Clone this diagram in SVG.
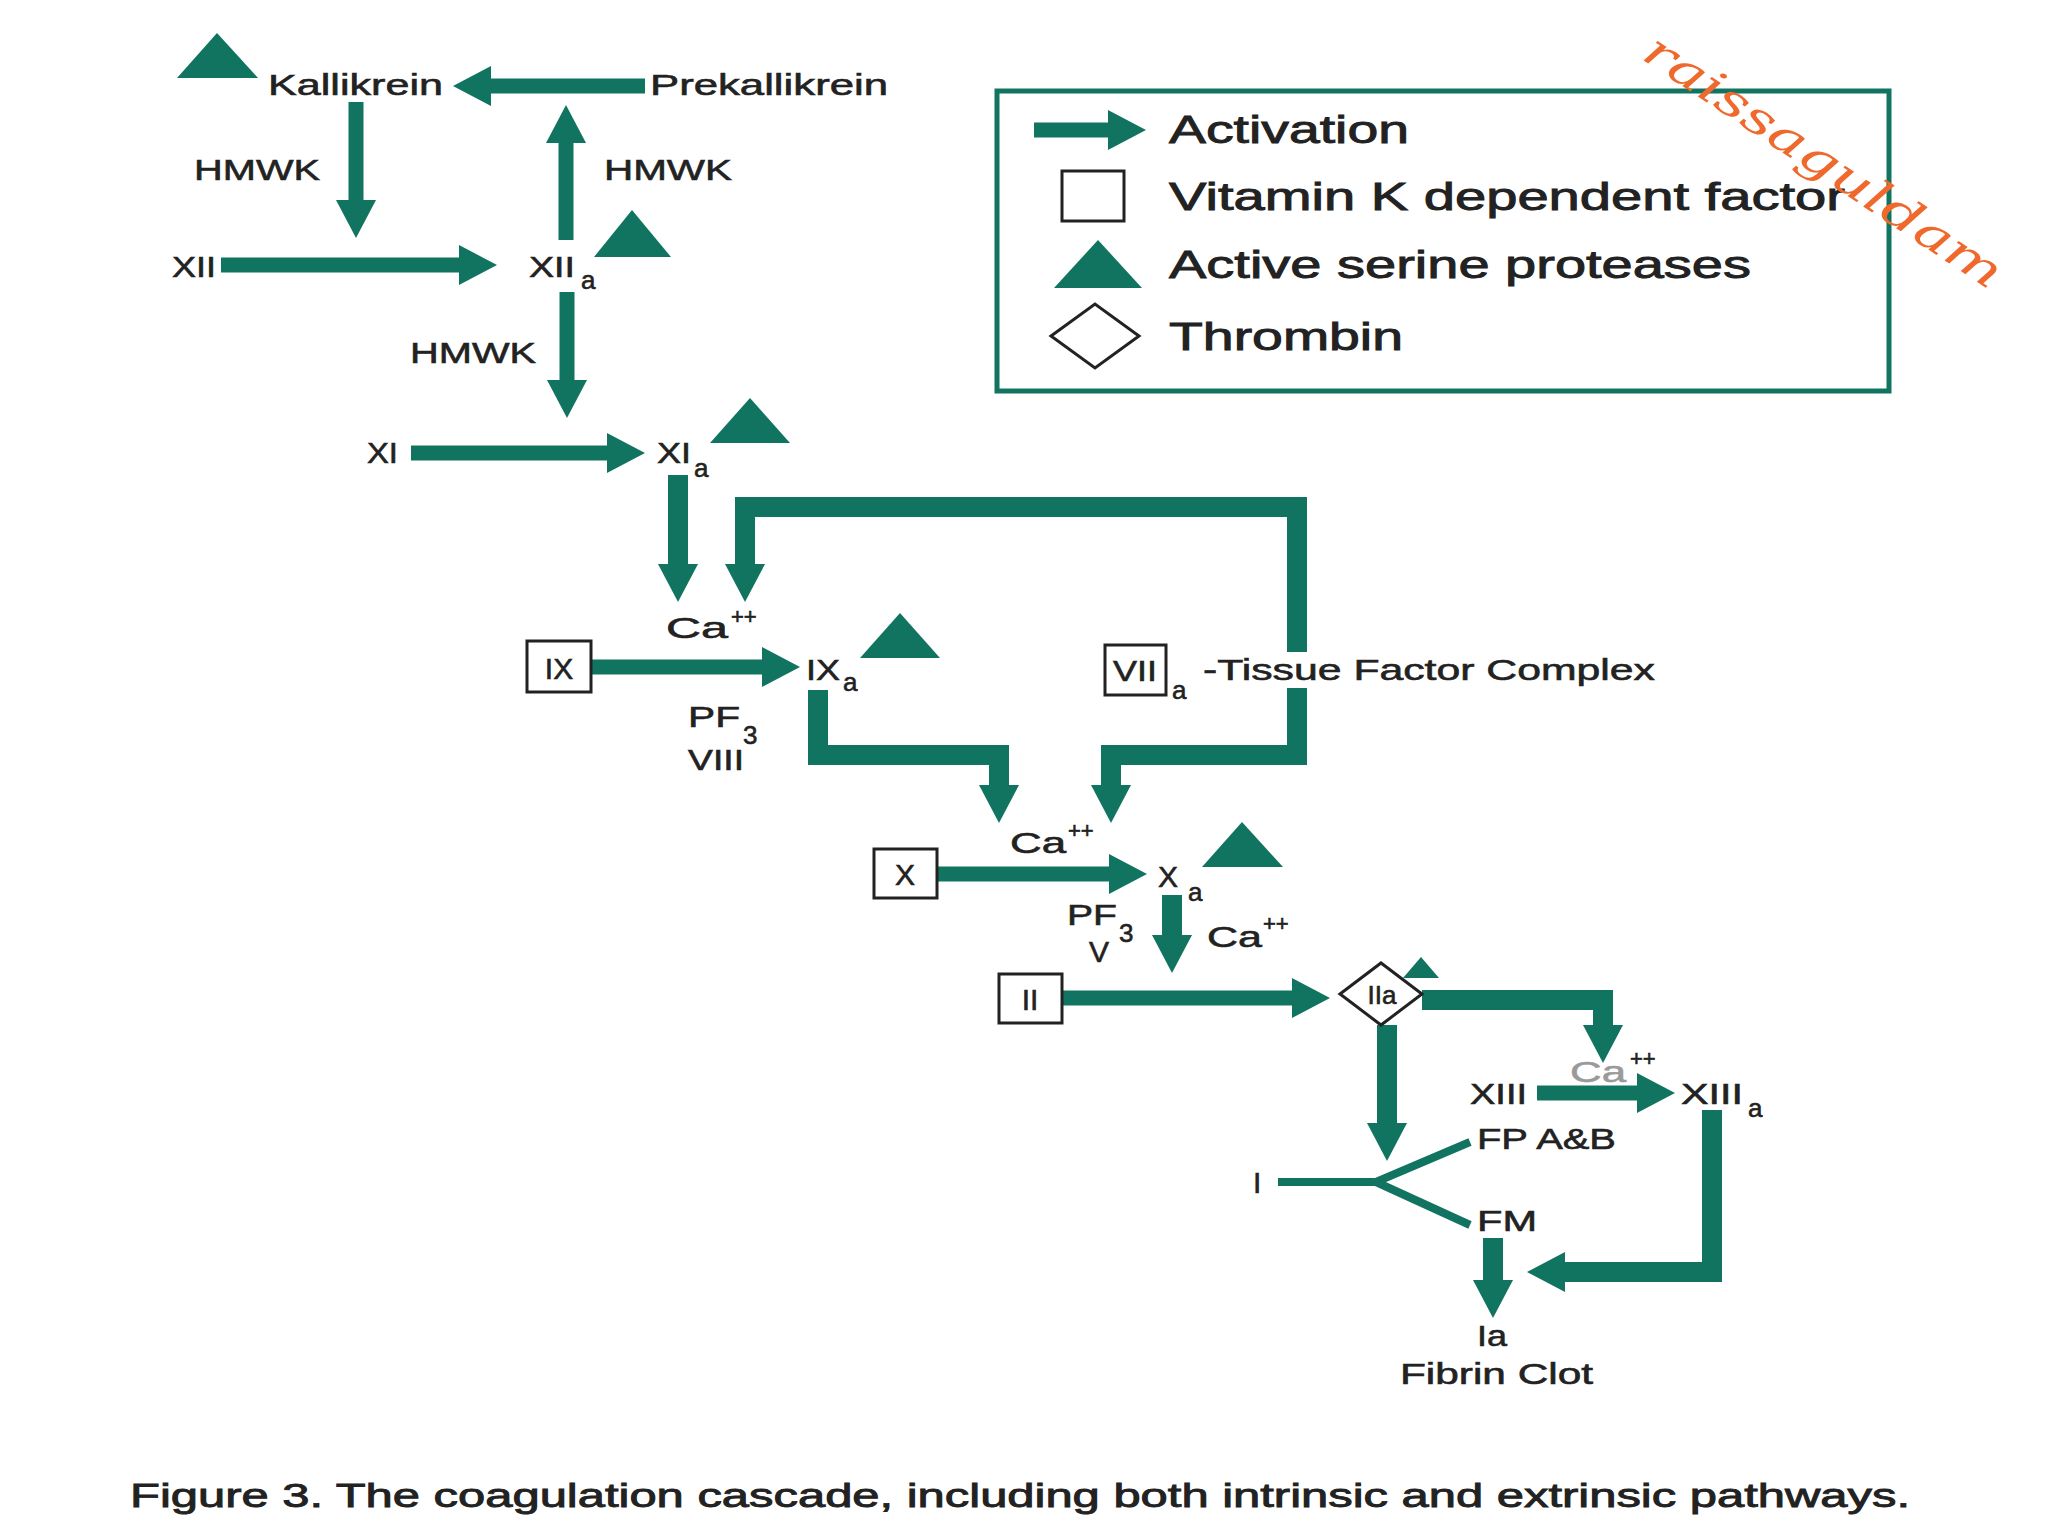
<svg xmlns="http://www.w3.org/2000/svg" width="2048" height="1536" viewBox="0 0 2048 1536">
<style>
text{font-family:"Liberation Sans",Arial,sans-serif;fill:#222;stroke:#222;stroke-width:0.6px;}
.t{font-size:30px;}
.s{font-size:26px;}
.sup{font-size:22px;}
.lg{font-size:39px;stroke-width:0.9px;}
.cap{font-size:34px;stroke-width:0.9px;}
.sh{fill:none;stroke:#117460;stroke-width:15;stroke-linejoin:miter;}
.lp{fill:none;stroke:#117460;stroke-width:20;stroke-linejoin:miter;}
.thin{fill:none;stroke:#117460;stroke-width:8;}
.tri{fill:#117460;}
.vk{fill:#fff;stroke:#222;stroke-width:3;}
.faded{fill:#9a9a9a;stroke:#9a9a9a;}
.wm{font-family:"DejaVu Serif",serif;font-style:italic;font-size:46px;fill:#F0692C;stroke:none;}
</style>
<defs>
<marker id="ah" markerUnits="userSpaceOnUse" markerWidth="40" markerHeight="40" refX="0" refY="20" orient="auto" overflow="visible">
<path d="M0,0 L38,20 L0,40 Z" fill="#117460"/>
</marker>
</defs>
<rect width="2048" height="1536" fill="#fff"/>

<g id="connectors">
<path class="sh" d="M645,86 H491" marker-end="url(#ah)"/>
<path class="sh" d="M356,102 V200" marker-end="url(#ah)"/>
<path class="sh" d="M221,265 H459" marker-end="url(#ah)"/>
<path class="sh" d="M566,240 V143" marker-end="url(#ah)"/>
<path class="sh" d="M567,292 V380" marker-end="url(#ah)"/>
<path class="sh" d="M411,453 H607" marker-end="url(#ah)"/>
<path class="lp" d="M678,475 V564" marker-end="url(#ah)"/>
<path class="lp" d="M1297,652 V507 H745 V564" marker-end="url(#ah)"/>
<path class="lp" d="M1297,688 V755 H1111 V785" marker-end="url(#ah)"/>
<path class="lp" d="M818,690 V755 H999 V785" marker-end="url(#ah)"/>
<path class="sh" d="M592,667 H762" marker-end="url(#ah)"/>
<path class="sh" d="M937,874 H1109" marker-end="url(#ah)"/>
<path class="lp" d="M1172,895 V935" marker-end="url(#ah)"/>
<path class="sh" d="M1062,998 H1292" marker-end="url(#ah)"/>
<path class="lp" d="M1422,1000 H1603 V1025" marker-end="url(#ah)"/>
<path class="lp" d="M1387,1025 V1123" marker-end="url(#ah)"/>
<path class="sh" d="M1537,1093 H1637" marker-end="url(#ah)"/>
<path class="lp" d="M1712,1110 V1272 H1565" marker-end="url(#ah)"/>
<path class="lp" d="M1493,1238 V1280" marker-end="url(#ah)"/>
<path class="thin" d="M1278,1182 H1376 L1470,1142 M1376,1182 L1470,1225"/>
</g>

<g id="kallikrein">
<polygon class="tri" points="177,78 217,33 258,78"/>
<text class="t" x="268" y="95" textLength="175" lengthAdjust="spacingAndGlyphs">Kallikrein</text>
</g>
<g id="prekallikrein">
<text class="t" x="650" y="95" textLength="238" lengthAdjust="spacingAndGlyphs">Prekallikrein</text>
</g>
<g id="hmwk1"><text class="t" x="194" y="180" textLength="126" lengthAdjust="spacingAndGlyphs">HMWK</text></g>
<g id="hmwk2"><text class="t" x="604" y="180" textLength="128" lengthAdjust="spacingAndGlyphs">HMWK</text></g>
<g id="xii"><text class="t" x="172" y="277" textLength="44" lengthAdjust="spacingAndGlyphs">XII</text></g>
<g id="xiia">
<text class="t" x="529" y="277" textLength="46" lengthAdjust="spacingAndGlyphs">XII</text>
<text class="s" x="581" y="289">a</text>
<polygon class="tri" points="594,257 632,210 671,257"/>
</g>
<g id="hmwk3"><text class="t" x="410" y="363" textLength="126" lengthAdjust="spacingAndGlyphs">HMWK</text></g>
<g id="xi"><text class="t" x="367" y="463" textLength="31" lengthAdjust="spacingAndGlyphs">XI</text></g>
<g id="xia">
<text class="t" x="657" y="463" textLength="34" lengthAdjust="spacingAndGlyphs">XI</text>
<text class="s" x="694" y="477">a</text>
<polygon class="tri" points="710,443 750,398 790,443"/>
</g>
<g id="ca1">
<text class="t" x="666" y="638" textLength="62" lengthAdjust="spacingAndGlyphs">Ca</text>
<text class="sup" x="731" y="624">++</text>
</g>
<g id="ix">
<rect class="vk" x="527" y="641" width="64" height="51"/>
<text class="t" x="559" y="679" text-anchor="middle">IX</text>
</g>
<g id="ixa">
<text class="t" x="806" y="680" textLength="34" lengthAdjust="spacingAndGlyphs">IX</text>
<text class="s" x="843" y="691">a</text>
<polygon class="tri" points="860,658 900,613 940,658"/>
</g>
<g id="pf3viii">
<text class="t" x="688" y="727" textLength="52" lengthAdjust="spacingAndGlyphs">PF</text>
<text class="s" x="743" y="744">3</text>
<text class="t" x="688" y="770" textLength="56" lengthAdjust="spacingAndGlyphs">VIII</text>
</g>
<g id="viia-tf">
<rect class="vk" x="1105" y="645" width="61" height="50"/>
<text class="t" x="1135" y="681" text-anchor="middle" textLength="44" lengthAdjust="spacingAndGlyphs">VII</text>
<text class="s" x="1172" y="699">a</text>
<rect x="1285" y="655" width="26" height="32" fill="#fff"/>
<text class="t" x="1203" y="680" textLength="452" lengthAdjust="spacingAndGlyphs">-Tissue Factor Complex</text>
</g>
<g id="ca2">
<text class="t" x="1010" y="853" textLength="56" lengthAdjust="spacingAndGlyphs">Ca</text>
<text class="sup" x="1068" y="838">++</text>
</g>
<g id="x">
<rect class="vk" x="874" y="849" width="63" height="49"/>
<text class="t" x="905" y="885" text-anchor="middle">X</text>
</g>
<g id="xa">
<text class="t" x="1158" y="887">X</text>
<text class="s" x="1188" y="901">a</text>
<polygon class="tri" points="1202,867 1242,822 1283,867"/>
</g>
<g id="pf3v">
<text class="t" x="1067" y="925" textLength="50" lengthAdjust="spacingAndGlyphs">PF</text>
<text class="s" x="1119" y="942">3</text>
<text class="t" x="1089" y="962">V</text>
</g>
<g id="ca3">
<text class="t" x="1207" y="947" textLength="55" lengthAdjust="spacingAndGlyphs">Ca</text>
<text class="sup" x="1263" y="931">++</text>
</g>
<g id="ii">
<rect class="vk" x="999" y="974" width="63" height="49"/>
<text class="t" x="1030" y="1010" text-anchor="middle">II</text>
</g>
<g id="iia">
<polygon class="vk" points="1340,994 1381,963 1422,994 1381,1025"/>
<text class="s" x="1382" y="1004" text-anchor="middle">IIa</text>
<polygon class="tri" points="1403,978 1421,957 1439,978"/>
</g>
<g id="ca4">
<text class="t faded" x="1570" y="1082" textLength="56" lengthAdjust="spacingAndGlyphs">Ca</text>
<text class="sup" x="1630" y="1066">++</text>
</g>
<g id="xiii"><text class="t" x="1470" y="1104" textLength="57" lengthAdjust="spacingAndGlyphs">XIII</text></g>
<g id="xiiia">
<text class="t" x="1681" y="1104" textLength="62" lengthAdjust="spacingAndGlyphs">XIII</text>
<text class="s" x="1748" y="1117">a</text>
</g>
<g id="i"><text class="t" x="1253" y="1193">I</text></g>
<g id="fpab"><text class="t" x="1477" y="1149" textLength="139" lengthAdjust="spacingAndGlyphs">FP A&amp;B</text></g>
<g id="fm"><text class="t" x="1477" y="1231" textLength="60" lengthAdjust="spacingAndGlyphs">FM</text></g>
<g id="ia">
<text class="t" x="1477" y="1346" textLength="30" lengthAdjust="spacingAndGlyphs">Ia</text>
<text class="t" x="1400" y="1384" textLength="193" lengthAdjust="spacingAndGlyphs">Fibrin Clot</text>
</g>

<g id="legend">
<rect x="997" y="91" width="892" height="300" fill="none" stroke="#117460" stroke-width="5"/>
<path class="sh" d="M1034,130 H1108" marker-end="url(#ah)"/>
<text class="lg" x="1169" y="143" textLength="240" lengthAdjust="spacingAndGlyphs">Activation</text>
<rect class="vk" x="1062" y="171" width="62" height="50"/>
<text class="lg" x="1169" y="210" textLength="676" lengthAdjust="spacingAndGlyphs">Vitamin K dependent factor</text>
<polygon class="tri" points="1054,288 1098,240 1142,288"/>
<text class="lg" x="1169" y="278" textLength="582" lengthAdjust="spacingAndGlyphs">Active serine proteases</text>
<polygon class="vk" points="1051,336 1095,304 1139,336 1095,368"/>
<text class="lg" x="1169" y="350" textLength="234" lengthAdjust="spacingAndGlyphs">Thrombin</text>
</g>

<g id="watermark">
<text class="wm" x="1640" y="58" transform="rotate(33.6 1640 58)" textLength="420" lengthAdjust="spacingAndGlyphs">raissaguldam</text>
</g>

<g id="caption">
<text class="cap" x="130" y="1507" textLength="1780" lengthAdjust="spacingAndGlyphs">Figure 3. The coagulation cascade, including both intrinsic and extrinsic pathways.</text>
</g>
</svg>
